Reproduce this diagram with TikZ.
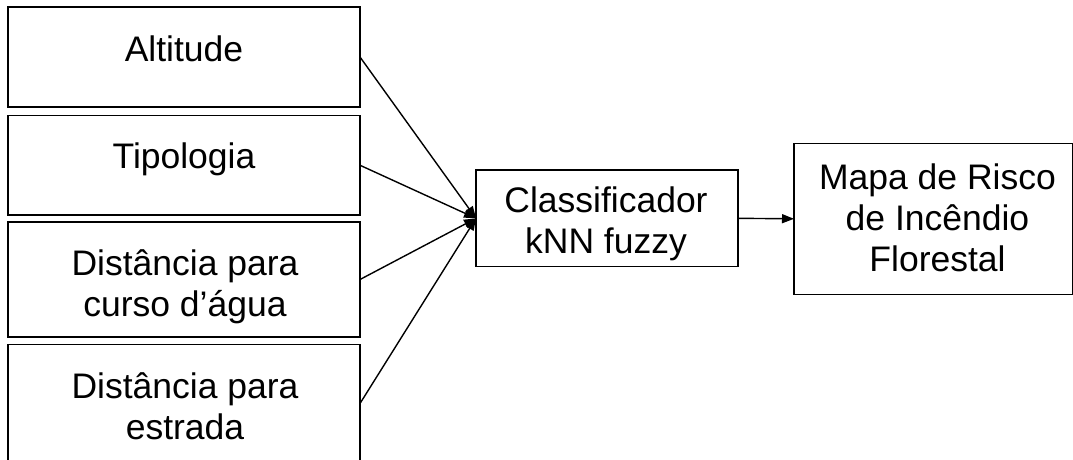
\documentclass[tikz,border=0pt]{standalone}
\usepackage{fontspec}
\setmainfont{Liberation Sans}
\usetikzlibrary{arrows.meta}
\begin{document}
\begin{tikzpicture}[x=1pt,y=-1pt,
  box/.style={draw=black,line width=1.4pt,inner sep=0pt,outer sep=0pt},
  lbl/.style={anchor=base,align=center,inner sep=0pt,
    font=\fontsize{35.5}{41}\selectfont},
  link/.style={line width=1.4pt,-{Triangle[length=12pt,width=9pt]}}]
  \useasboundingbox (0,0) rectangle (1073,459);

  % input layers (the last one runs off the lower edge)
  \node[box,minimum width=352pt,minimum height=100pt] (alt) at (184,57) {};
  \node[box,minimum width=352pt,minimum height=99.5pt] (tip) at (184,165.25) {};
  \node[box,minimum width=352pt,minimum height=115pt] (agua) at (184,279.5) {};
  \node[box,minimum width=352pt,minimum height=118pt] (estr) at (184,403.5) {};

  % labels are placed by the baseline of their last line
  \node[lbl] (altT) at (184,61.7) {Altitude};
  \node[lbl] (tipT) at (184,168.3) {Tipologia};
  \node[lbl] (aguaT) at (185,316.7) {Distância para\\curso d’água};
  \node[lbl] (estrT) at (185,439.3) {Distância para\\estrada};

  % classifier and output map
  \node[box,minimum width=262pt,minimum height=96.7pt] (knn) at (607,218.3) {};
  \node[lbl] (knnT) at (606,253.3) {Classificador\\kNN fuzzy};

  \node[box,minimum width=278.5pt,minimum height=151pt] (mapa) at (933.25,218.8) {};
  \node[lbl] (mapaT) at (937.5,271.7) {Mapa de Risco\\de Incêndio\\Florestal};

  % connectors
  \foreach \src in {alt,tip,agua,estr}
    \draw[link] (\src.east) -- (knn.west);
  \draw[link] (knn.east) -- (mapa.west);
\end{tikzpicture}
\end{document}
